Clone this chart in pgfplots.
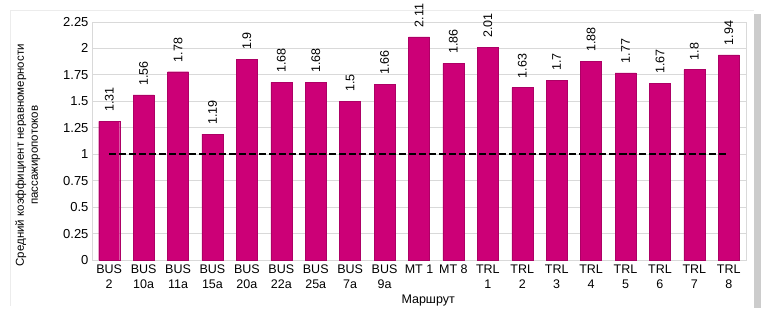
\documentclass[border=0pt]{standalone}
\usepackage{pgfplots}
\pgfplotsset{compat=1.18}
\usepackage{fontspec}
\setmainfont{Liberation Sans}
\definecolor{barc}{RGB}{204,0,119}
\definecolor{gridc}{RGB}{217,217,217}
\begin{document}
\begin{tikzpicture}[x=1pt,y=1pt]
\useasboundingbox (0,0) rectangle (771,314);
\fill[gray!40] (754,6) rectangle (761,300);
\fill[white] (10,8) rectangle (754,304);
\draw[gray!15] (10,8) -- (10,304) -- (754,304);
\begin{axis}[
  at={(92pt,54pt)}, anchor=south west,
  scale only axis, width=654pt, height=238pt,
  xmin=-0.5, xmax=18.5, ymin=0, ymax=2.25,
  ytick={0,0.25,...,2.25},
  xtick={0,...,18},
  xticklabels={{BUS\\2},{BUS\\10a},{BUS\\11a},{BUS\\15a},{BUS\\20a},{BUS\\22a},{BUS\\25a},{BUS\\7a},{BUS\\9a},{MT 1},{MT 8},{TRL\\1},{TRL\\2},{TRL\\3},{TRL\\4},{TRL\\5},{TRL\\6},{TRL\\7},{TRL\\8}},
  xticklabel style={align=center, font=\fontsize{12.5}{15}\selectfont, anchor=north, yshift=-1pt},
  yticklabel style={font=\fontsize{13}{14}\selectfont},
  /pgf/number format/assume math mode=true,
  ymajorgrids, grid style={gridc, line width=0.8pt},
  axis line style={gridc, line width=0.8pt},
  major tick length=0pt,
  xlabel={Маршрут}, xlabel style={font=\fontsize{12.5}{14}\selectfont, at={(axis description cs:0.514,0)}, yshift=-31pt, anchor=north},
  ylabel={Средний коэффициент неравномерности\\пассажиропотоков},
  ylabel style={align=center, font=\fontsize{11.5}{14}\selectfont, at={(ticklabel cs:0.44)}, yshift=16pt},
]
\addplot[ybar, bar width=21pt, fill=barc, draw=barc!85!black, line width=0.4pt,
  nodes near coords, every node near coord/.append style={rotate=90, anchor=west, font=\fontsize{12.5}{13}\selectfont, xshift=6pt, black}] coordinates {
(0,1.31) (1,1.56) (2,1.78) (3,1.19) (4,1.9) (5,1.68) (6,1.68) (7,1.5) (8,1.66) (9,2.11) (10,1.86) (11,2.01) (12,1.63) (13,1.7) (14,1.88) (15,1.77) (16,1.67) (17,1.8) (18,1.94)};
\addplot[black, line width=2pt, dash pattern=on 7pt off 3pt] coordinates {
(0,1) (1,1) (2,1) (3,1) (4,1) (5,1) (6,1) (7,1) (8,1) (9,1) (10,1) (11,1) (12,1) (13,1) (14,1) (15,1) (16,1) (17,1) (18,1)};
\end{axis}
\end{tikzpicture}
\end{document}
